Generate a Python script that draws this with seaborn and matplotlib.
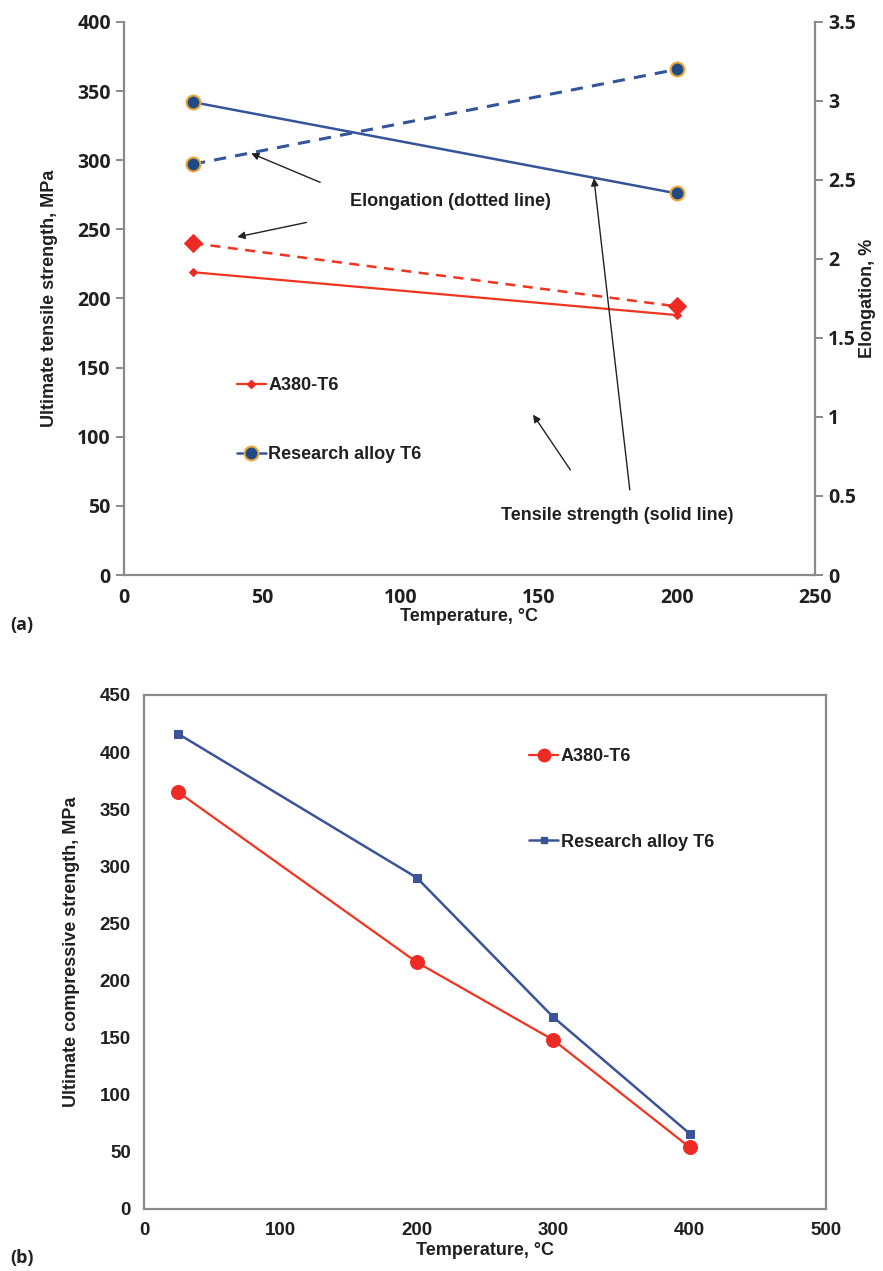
import matplotlib
matplotlib.use("Agg")
import matplotlib.pyplot as plt
import seaborn as sns
import pandas as pd
from matplotlib.lines import Line2D

# ---------------- data ----------------
series_names = ["A380-T6", "Research alloy T6"]

# panel (a): tensile tests
temp_a = [25, 200]
uts_a380 = [219, 188]
uts_research = [342, 276]
elong_a380 = [2.1, 1.7]
elong_research = [2.6, 3.2]

# panel (b): compressive tests
temp_b = [25, 200, 300, 400]
ucs_a380 = [365, 216, 148, 54]
ucs_research = [416, 290, 168, 66]

xticks_a = [0, 50, 100, 150, 200, 250]
yticks_a = [0, 50, 100, 150, 200, 250, 300, 350, 400]
y2ticks_a = [0, 0.5, 1, 1.5, 2, 2.5, 3, 3.5]
y2labels_a = ["0", "0.5", "1", "1.5", "2", "2.5", "3", "3.5"]
xticks_b = [0, 100, 200, 300, 400, 500]
yticks_b = [0, 50, 100, 150, 200, 250, 300, 350, 400, 450]

# ---------------- style ----------------
sns.set_theme(style="white")
plt.rcParams["font.family"] = ["Liberation Sans", "DejaVu Sans"]
plt.rcParams["font.weight"] = "bold"

RED = "#f0341f"
RED_MK = "#ee2a24"
BLUE = "#34559a"
BLUE_FILL = "#1f4a86"
GOLD = "#e9a83a"
BLUE_B = "#3b5499"
SPINE = "#8a8a8a"
TXT = "#231f20"

fig = plt.figure(figsize=(8.83, 12.71), dpi=100)

def style_axis(ax, spines):
    for s in ["left", "right", "top", "bottom"]:
        ax.spines[s].set_visible(s in spines)
        ax.spines[s].set_color(SPINE)
        ax.spines[s].set_linewidth(1.6)
    ax.tick_params(direction="out", length=6, width=1.4, color=SPINE,
                   labelcolor=TXT)
    ax.grid(False)

# ================= panel (a) =================
ax1 = fig.add_axes([0.1404, 0.5476, 0.7826, 0.4351])
ax2 = ax1.twinx()
ax1.set_facecolor("none")
ax2.set_facecolor("none")

df_a = pd.DataFrame({"T": temp_a, "uts_a": uts_a380, "uts_r": uts_research,
                     "el_a": elong_a380, "el_r": elong_research})

sns.lineplot(data=df_a, x="T", y="uts_a", ax=ax1, color=RED, lw=1.6,
             marker="D", markersize=4.5, markeredgecolor=RED_MK,
             markerfacecolor=RED_MK)
sns.lineplot(data=df_a, x="T", y="uts_r", ax=ax1, color=BLUE, lw=1.8,
             marker="o", markersize=10, markerfacecolor=BLUE_FILL,
             markeredgecolor=GOLD, markeredgewidth=1.5)
sns.lineplot(data=df_a, x="T", y="el_a", ax=ax2, color=RED, lw=1.8,
             linestyle=(0, (4, 3)), marker="D", markersize=9,
             markeredgecolor=RED_MK, markerfacecolor=RED_MK)
sns.lineplot(data=df_a, x="T", y="el_r", ax=ax2, color=BLUE, lw=2.2,
             linestyle=(0, (4, 3)), marker="o", markersize=10,
             markerfacecolor=BLUE_FILL, markeredgecolor=GOLD,
             markeredgewidth=1.5)

ax1.set_xlim(0, 250)
ax1.set_ylim(0, 400)
ax2.set_ylim(0, 3.5)
ax1.set_xticks(xticks_a)
ax1.set_yticks(yticks_a)
ax2.set_yticks(y2ticks_a)
ax2.set_yticklabels(y2labels_a)
style_axis(ax1, ["left", "bottom"])
style_axis(ax2, ["right"])
for lab in ax1.get_xticklabels() + ax1.get_yticklabels() + ax2.get_yticklabels():
    lab.set_fontfamily(["Open Sans", "DejaVu Sans"])
    lab.set_fontweight("bold")
    lab.set_fontsize(14)

ax1.set_xlabel("Temperature, °C", fontsize=13, fontweight="bold", color=TXT,
               labelpad=0)
ax1.set_ylabel("Ultimate tensile strength, MPa", fontsize=13,
               fontweight="bold", color=TXT, labelpad=14)
ax2.set_ylabel("Elongation, %", fontsize=13, fontweight="bold", color=TXT,
               labelpad=2)

arrow_kw = dict(arrowstyle="-|>", color="#222222", lw=1.0, mutation_scale=11,
                shrinkA=0, shrinkB=0)
ax1.text(118, 270, "Elongation (dotted line)", ha="center", va="center",
         fontsize=13, fontweight="bold", color=TXT)
ax1.annotate("", xy=(46, 305), xytext=(71, 284), arrowprops=arrow_kw)
ax1.annotate("", xy=(41, 244.5), xytext=(66, 255), arrowprops=arrow_kw)
ax1.text(178.5, 42.7, "Tensile strength (solid line)", ha="center",
         va="center", fontsize=13, fontweight="bold", color=TXT)
ax1.annotate("", xy=(148, 116), xytext=(161.5, 76), arrowprops=arrow_kw)
ax1.annotate("", xy=(170, 287), xytext=(183, 61.5), arrowprops=arrow_kw)

leg_a = [Line2D([], [], color=RED, lw=1.6, marker="D", markersize=4.5,
                markerfacecolor=RED_MK, markeredgecolor=RED_MK),
         Line2D([], [], color=BLUE, lw=1.8, marker="o", markersize=10,
                markerfacecolor=BLUE_FILL, markeredgecolor=GOLD,
                markeredgewidth=1.5)]
la = ax2.legend(leg_a, series_names, loc="center left",
                bbox_to_anchor=(0.163, 0.28), frameon=False, fontsize=13,
                handlelength=1.6, handletextpad=0.15, labelspacing=2.9,
                borderpad=0, borderaxespad=0)
for t in la.get_texts():
    t.set_color(TXT)
    t.set_fontweight("bold")

fig.text(10 / 883, 1 - 625 / 1271, "(a)", fontsize=13, fontweight="bold",
         family=["Open Sans", "DejaVu Sans"], color=TXT, va="center")

# ================= panel (b) =================
axb = fig.add_axes([0.1631, 0.0488, 0.7724, 0.4044])
df_b = pd.DataFrame({"T": temp_b, "a380": ucs_a380, "res": ucs_research})
sns.lineplot(data=df_b, x="T", y="a380", ax=axb, color=RED, lw=1.6,
             marker="o", markersize=10, markerfacecolor=RED_MK,
             markeredgecolor=RED_MK)
sns.lineplot(data=df_b, x="T", y="res", ax=axb, color=BLUE_B, lw=1.8,
             marker="s", markersize=5.5, markerfacecolor=BLUE_B,
             markeredgecolor=BLUE_B)
axb.set_xlim(0, 500)
axb.set_ylim(0, 450)
axb.set_xticks(xticks_b)
axb.set_yticks(yticks_b)
style_axis(axb, ["left", "bottom", "right", "top"])
axb.tick_params(right=False, top=False)
for lab in axb.get_xticklabels() + axb.get_yticklabels():
    lab.set_fontweight("bold")
    lab.set_fontsize(13.5)
axb.set_xlabel("Temperature, °C", fontsize=13, fontweight="bold", color=TXT,
               labelpad=2)
axb.set_ylabel("Ultimate compressive strength, MPa", fontsize=13,
               fontweight="bold", color=TXT, labelpad=14)

leg_b = [Line2D([], [], color=RED, lw=1.6, marker="o", markersize=9,
                markerfacecolor=RED_MK, markeredgecolor=RED_MK),
         Line2D([], [], color=BLUE_B, lw=1.8, marker="s", markersize=5,
                markerfacecolor=BLUE_B, markeredgecolor=BLUE_B)]
lb = axb.legend(leg_b, series_names, loc="center left",
                bbox_to_anchor=(0.565, 0.797), frameon=False, fontsize=13,
                handlelength=1.6, handletextpad=0.15, labelspacing=3.8,
                borderpad=0, borderaxespad=0)
for t in lb.get_texts():
    t.set_color(TXT)
    t.set_fontweight("bold")

fig.text(10 / 883, 1 - 1258 / 1271, "(b)", fontsize=13, fontweight="bold",
         family=["Open Sans", "DejaVu Sans"], color=TXT, va="center")

fig.savefig("out.png", dpi=100)
